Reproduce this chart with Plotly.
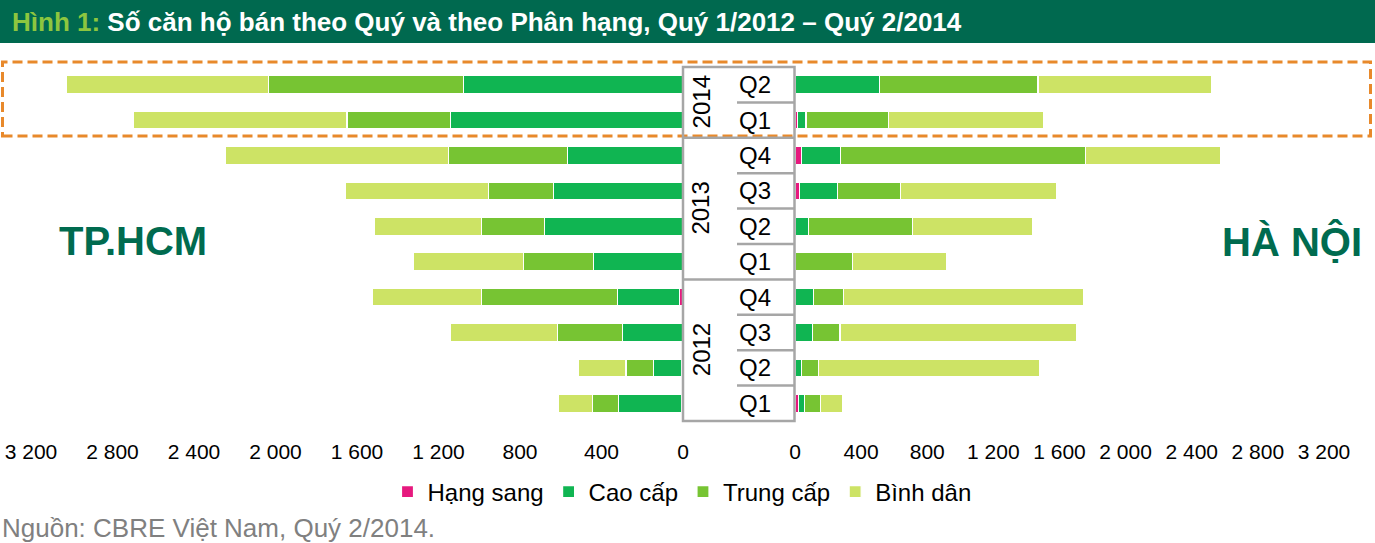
import plotly.graph_objects as go

# ---------------- data ----------------
years = ["2012", "2012", "2012", "2012", "2013", "2013", "2013", "2013", "2014", "2014"]
quarters = ["Q1", "Q2", "Q3", "Q4", "Q1", "Q2", "Q3", "Q4", "Q1", "Q2"]

series_names = ["Hạng sang", "Cao cấp", "Trung cấp", "Bình dân"]

# TP.HCM (left side)
hcm_hang_sang = [8, 8, 0, 17, 0, 0, 0, 0, 0, 0]
hcm_cao_cap = [308, 135, 298, 303, 440, 680, 636, 568, 1140, 1076]
hcm_trung_cap = [127, 137, 318, 670, 342, 308, 318, 582, 509, 959]
hcm_binh_dan = [171, 235, 528, 533, 543, 528, 704, 1096, 1047, 993]

# Hà Nội (right side)
hn_hang_sang = [20, 5, 0, 0, 0, 0, 25, 38, 16, 0]
hn_cao_cap = [36, 36, 107, 113, 0, 82, 231, 235, 50, 512]
hn_trung_cap = [100, 100, 165, 178, 350, 627, 380, 1482, 500, 958]
hn_binh_dan = [133, 1337, 1434, 1452, 566, 729, 946, 819, 940, 1048]

tick_values = [0, 400, 800, 1200, 1600, 2000, 2400, 2800, 3200]

# ---------------- style ----------------
colors = ["#E6197E", "#10B552", "#77C433", "#CDE365"]
FONT = "Liberation Sans, Arial, sans-serif"
DARKGREEN = "#006B4F"
W, H = 1375, 543
T, B = 67, 122
PH = H - T - B


def px_x(px):
    return px / W


def px_y(py):
    return (H - B - py) / PH


pos = list(range(len(quarters)))

fig = go.Figure()
hcm = [hcm_hang_sang, hcm_cao_cap, hcm_trung_cap, hcm_binh_dan]
hn = [hn_hang_sang, hn_cao_cap, hn_trung_cap, hn_binh_dan]
for name, col, vals in zip(series_names, colors, hcm):
    fig.add_trace(go.Bar(
        x=vals, y=pos, orientation="h", name=name, xaxis="x", yaxis="y",
        marker=dict(color=col, line=dict(color="white", width=1.2)),
        width=0.5, legendgroup=name, showlegend=True,
    ))
for name, col, vals in zip(series_names, colors, hn):
    fig.add_trace(go.Bar(
        x=vals, y=pos, orientation="h", name=name, xaxis="x2", yaxis="y",
        marker=dict(color=col, line=dict(color="white", width=1.2)),
        width=0.5, legendgroup=name, showlegend=False,
    ))

axis_common = dict(
    tickvals=tick_values, separatethousands=True, showgrid=False,
    zeroline=False, showline=False, ticks="",
    tickfont=dict(family=FONT, size=21, color="#000000"),
    ticklabelstandoff=16, fixedrange=True, automargin=False,
)

shapes = []
annotations = []

# header band
shapes.append(dict(type="rect", xref="paper", yref="paper", x0=-0.01, x1=1.01,
                   y0=px_y(43), y1=px_y(-2), fillcolor="#00694F",
                   line=dict(width=0), layer="below"))
annotations.append(dict(
    xref="paper", yref="paper", x=px_x(10), y=px_y(22), xanchor="left",
    yanchor="middle", showarrow=False,
    text="<b><span style='color:#8DC63F'>Hình 1:</span> Số căn hộ bán theo Quý và theo Phân hạng, Quý 1/2012 – Quý 2/2014</b>",
    font=dict(family=FONT, size=26, color="white"),
))

# orange dashed highlight
shapes.append(dict(type="rect", xref="paper", yref="paper",
                   x0=px_x(2.5), x1=px_x(1370.5), y0=px_y(136), y1=px_y(62),
                   line=dict(color="#E8892B", width=3, dash="10px,5px"), layer="above"))

# centre label box
bx0, bx1, qx0 = px_x(683), px_x(794.5), px_x(737)
shapes.append(dict(type="rect", xref="paper", yref="paper", x0=bx0, x1=bx1,
                   y0=0, y1=1, line=dict(color="#A6A6A6", width=2.5), layer="above"))
for i in range(1, len(quarters)):
    boundary = i - 0.5
    full = years[i] != years[i - 1]
    shapes.append(dict(type="line", xref="paper", yref="y",
                       x0=bx0 if full else qx0, x1=bx1, y0=boundary, y1=boundary,
                       line=dict(color="#A6A6A6", width=2.5), layer="above"))

for i, q in enumerate(quarters):
    annotations.append(dict(xref="paper", yref="y", x=px_x(755), y=i,
                            text=q, showarrow=False, xanchor="center", yanchor="middle",
                            font=dict(family=FONT, size=24, color="#000000")))
for yr in sorted(set(years)):
    idx = [i for i, y in enumerate(years) if y == yr]
    annotations.append(dict(xref="paper", yref="y", x=px_x(701), y=sum(idx) / len(idx),
                            text=yr, textangle=-90, showarrow=False,
                            xanchor="center", yanchor="middle",
                            font=dict(family=FONT, size=24, color="#000000")))

# city labels
annotations.append(dict(xref="paper", yref="paper", x=px_x(133), y=px_y(241),
                        xanchor="center", yanchor="middle",
                        text="<b>TP.HCM</b>", showarrow=False,
                        font=dict(family=FONT, size=40, color=DARKGREEN)))
annotations.append(dict(xref="paper", yref="paper", x=px_x(1292), y=px_y(241),
                        xanchor="center", yanchor="middle",
                        text="<b>HÀ NỘI</b>", showarrow=False,
                        font=dict(family=FONT, size=40, color=DARKGREEN)))

# source
annotations.append(dict(xref="paper", yref="paper", x=0, y=px_y(528),
                        xanchor="left", yanchor="middle", showarrow=False,
                        text="Nguồn: CBRE Việt Nam, Quý 2/2014.",
                        font=dict(family=FONT, size=26, color="#808080")))

fig.update_layout(
    width=W, height=H, autosize=False,
    margin=dict(l=0, r=0, t=T, b=B, pad=0, autoexpand=False),
    paper_bgcolor="white", plot_bgcolor="white",
    barmode="stack", bargap=0.5,
    separators=", ",
    xaxis=dict(domain=[px_x(31), px_x(683)], range=[3200, 0], anchor="y", **axis_common),
    xaxis2=dict(domain=[px_x(795), px_x(1324)], range=[0, 3200], anchor="y", **axis_common),
    yaxis=dict(range=[-0.5, 9.5], visible=False, fixedrange=True),
    showlegend=True,
    legend=dict(orientation="h", x=0.496, xanchor="center", y=px_y(492),
                yanchor="middle", font=dict(family=FONT, size=24, color="#000000"),
                traceorder="normal", itemwidth=30, bgcolor="rgba(0,0,0,0)"),
    shapes=shapes, annotations=annotations,
)

fig.write_html("out.html", config={"displayModeBar": False},
               post_script="document.body.style.margin='0px';")
